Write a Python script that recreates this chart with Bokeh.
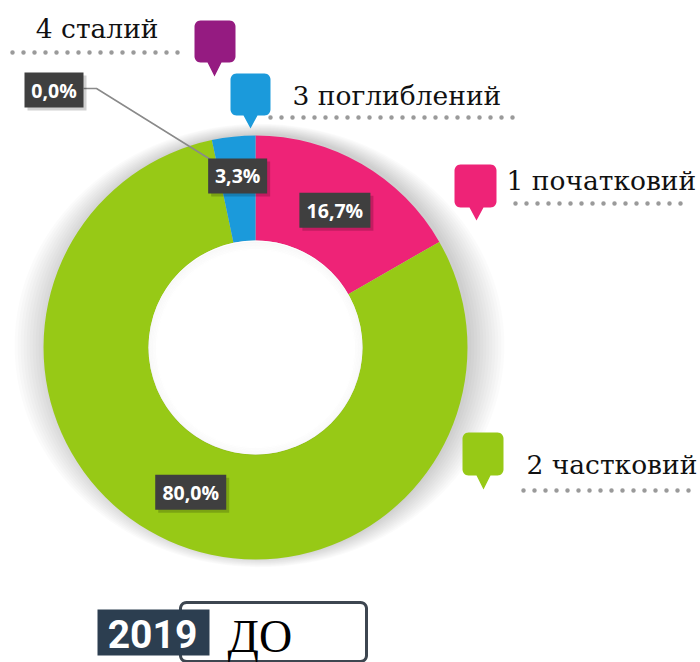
import numpy as np
from bokeh.plotting import figure
from bokeh.models import Range1d, ColumnDataSource
from bokeh.core.properties import value
from bokeh.embed import file_html
from bokeh.resources import INLINE

# ---------------- data ----------------
categories = ["1 початковий", "2 частковий", "3 поглиблений", "4 сталий"]
shares = [16.7, 80.0, 3.3, 0.0]
pct_labels = ["16,7%", "80,0%", "3,3%", "0,0%"]
colors = ["#EE2377", "#97C916", "#1B9ADB", "#951B81"]
year_label = "2019"
period_label = "ДО"

# ---------------- layout (image pixel coords, y down) ----------------
W, H = 700, 662
CX, CY = 255, 347
R_OUT, R_IN = 212, 107


def Y(py):
    return H - py


p = figure(width=W, height=H, x_range=Range1d(0, W), y_range=Range1d(0, H),
           output_backend="svg", toolbar_location=None, min_border=0)
p.axis.visible = False
p.grid.visible = False
p.outline_line_color = None
p.background_fill_color = "white"
p.border_fill_color = "white"

# soft shadow behind donut
for k in range(12):
    p.ellipse(x=CX + 4, y=Y(CY - 2), width=2 * (R_OUT + 3.0 * k), height=2 * (R_OUT + 0.9 * k),
              fill_color="black", fill_alpha=0.014, line_color=None)

# donut wedges from data
vals = np.array(shares, dtype=float)
frac = vals / vals.sum()
cum_end = np.cumsum(frac)
cum_start = cum_end - frac
start = np.pi / 2 - 2 * np.pi * cum_start
end = np.pi / 2 - 2 * np.pi * cum_end
mask = frac > 0
src = ColumnDataSource(dict(start=start[mask], end=end[mask],
                            color=[c for c, m in zip(colors, mask) if m]))
p.annular_wedge(x=CX, y=Y(CY), inner_radius=R_IN, outer_radius=R_OUT,
                start_angle="start", end_angle="end", direction="clock",
                fill_color="color", line_color=None, source=src)

# white hole + subtle inner shadow
p.circle(x=CX, y=Y(CY), radius=R_IN, fill_color="white", line_color=None)
for k in range(6):
    p.annulus(x=CX, y=Y(CY + 1), inner_radius=R_IN - 1.5 * k - 1.5, outer_radius=R_IN - 1.5 * k,
              fill_color="black", fill_alpha=0.03 * (6 - k) / 6, line_color=None)

# leader line for zero-share label
zero_box = (53.5, 89.5)
p.line(x=[83, 96, 210], y=[Y(88), Y(88), Y(159)], line_color="#8a8a8a", line_width=1.5)

# percentage labels
mid = cum_start + frac / 2
r_off = [0, 0, 14, 0]
lx, ly = [], []
for i in range(len(shares)):
    if frac[i] > 0:
        rr = (R_OUT + R_IN) / 2 - 1 + r_off[i]
        lx.append(CX + rr * np.sin(2 * np.pi * mid[i]))
        ly.append(Y(CY - rr * np.cos(2 * np.pi * mid[i])))
    else:
        lx.append(zero_box[0])
        ly.append(Y(zero_box[1]))
bw = [12 * len(s) + 11 for s in pct_labels]
lsrc = ColumnDataSource(dict(x=lx, y=ly, w=bw, t=pct_labels,
                             xs=[v + 3 for v in lx], ys=[v - 3 for v in ly]))
p.rect(x="xs", y="ys", width="w", height=35, fill_color="black", fill_alpha=0.18,
       line_color=None, source=lsrc)
p.rect(x="x", y="y", width="w", height=35, fill_color="#3f3f3f", line_color=None, source=lsrc)
p.text(x="x", y="y", text="t", text_color="white", text_font=value("Open Sans"),
       text_font_style="bold", text_font_size="19.5px", text_align="center",
       text_baseline="middle", source=lsrc)


# legend bubbles
def bubble(x0, y0, x1, y1, tipx, tipy, r=6, half=7):
    def arc(cx, cy, a0, a1):
        t = np.linspace(a0, a1, 8)
        return list(cx + r * np.cos(t)), list(cy + r * np.sin(t))
    xs, ys = [], []
    for seg in (arc(x0 + r, y0 + r, np.pi, 1.5 * np.pi),
                arc(x1 - r, y0 + r, 1.5 * np.pi, 2 * np.pi),
                arc(x1 - r, y1 - r, 0, 0.5 * np.pi)):
        xs += seg[0]; ys += seg[1]
    xs += [tipx + half, tipx, tipx - half]
    ys += [y1, tipy, y1]
    a = arc(x0 + r, y1 - r, 0.5 * np.pi, np.pi)
    xs += a[0]; ys += a[1]
    return xs, [Y(v) for v in ys]


bub = [  # x0, y0, x1, y1, tipx, tipy
    (454, 164, 496, 207, 476, 220),
    (462, 432, 503, 475, 483, 489),
    (230, 73, 270, 115, 250, 128),
    (194, 20, 235, 62, 214, 76),
]
txt = [  # x, y (visual middle), align
    (506, 180, "left"),
    (526, 464, "left"),
    (292, 95, "left"),
    (158, 28, "right"),
]
dots = [  # x0, x1, y
    (515, 688, 203),
    (523, 697, 490),
    (270, 520, 117),
    (12, 182, 52),
]
bx, by = [], []
for b in bub:
    xs, ys = bubble(*b)
    bx.append(xs); by.append(ys)
p.patches(xs=bx, ys=by, fill_color=colors, line_color=None)
p.text(x=[t[0] for t in txt], y=[Y(t[1]) for t in txt], text=categories,
       text_align=[t[2] for t in txt], text_baseline="middle",
       text_font=value("DejaVu Serif"), text_font_size="26.5px", text_color="#111111")
for d in dots:
    p.line(x=[d[0], d[1]], y=[Y(d[2]), Y(d[2])], line_color="#9a9a9a", line_width=4.5,
           line_dash="0 11", line_cap="round")

# bottom year / period boxes
ox, oy = bubble(180, 602, 366, 661, 273, 661, r=6, half=0)
p.patch(x=ox, y=oy, fill_color="white", line_color="#3d4650", line_width=3)
p.quad(left=97, right=209, top=Y(609), bottom=Y(655), fill_color="#2C3E50", line_color=None)
p.text(x=[152], y=[Y(633)], text=[year_label], text_color="white",
       text_font=value("Roboto"), text_font_style="bold",
       text_font_size="39px", text_align="center", text_baseline="middle")
p.text(x=[227], y=[Y(636)], text=[period_label], text_color="black",
       text_font=value("Liberation Serif"), text_font_size="46px",
       text_align="left", text_baseline="middle")

open("out.html", "w").write(file_html(p, INLINE))
